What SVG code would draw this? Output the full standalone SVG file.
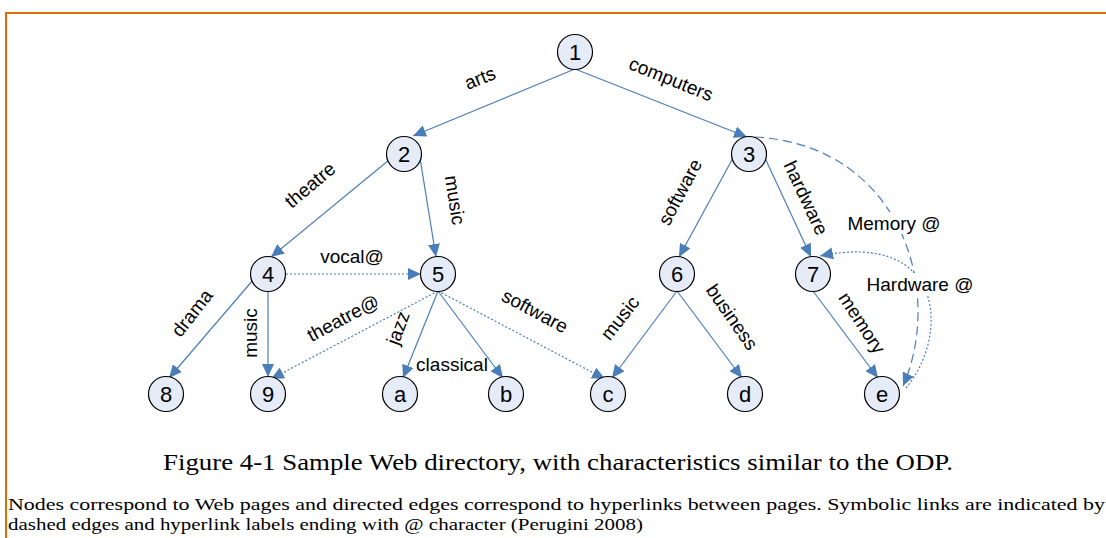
<svg xmlns="http://www.w3.org/2000/svg" width="1106" height="538" viewBox="0 0 1106 538">
<style>
.node circle{fill:#e6ecf7;stroke:#000;stroke-width:1.2}
.node text{font-family:"Liberation Sans",Arial,sans-serif;font-size:22px;text-anchor:middle;dominant-baseline:central;fill:#000}
.e{stroke:#4a7ebb;stroke-width:1.2;fill:none}
.dot{stroke-dasharray:2,2}
.dash{stroke-dasharray:9,5}
.lbl{font-family:"Liberation Sans",Arial,sans-serif;font-size:19px;text-anchor:middle;dominant-baseline:central;fill:#000}
.cap{font-family:"Liberation Serif","Times New Roman",serif;fill:#000}
</style>
<defs>
<marker id="ah" markerUnits="userSpaceOnUse" markerWidth="14" markerHeight="12" refX="13" refY="6" orient="auto">
<path d="M0,0 L13,6 L0,12 z" fill="#4a7ebb"/>
</marker>
</defs>
<rect width="1106" height="538" fill="#fff"/>
<path d="M6,538 V13 H1106" fill="none" stroke="#e36c0a" stroke-width="2"/>
<g id="edges">
<path class="e" d="M575,69 L413,136" marker-end="url(#ah)"/>
<path class="e" d="M575,69 L747,137" marker-end="url(#ah)"/>
<path class="e" d="M389,160 L271,257" marker-end="url(#ah)"/>
<path class="e" d="M420,158 L436,257" marker-end="url(#ah)"/>
<path class="e" d="M733,158 L679,257" marker-end="url(#ah)"/>
<path class="e" d="M765,158 L811,257" marker-end="url(#ah)"/>
<path class="e" d="M253,280 L169,378" marker-end="url(#ah)"/>
<path class="e" d="M268,291 L268,377" marker-end="url(#ah)"/>
<path class="e dot" d="M286,274 L421,274" marker-end="url(#ah)"/>
<path class="e dot" d="M438,291 L271,379" marker-end="url(#ah)"/>
<path class="e" d="M438,291 L403,378" marker-end="url(#ah)"/>
<path class="e" d="M438,291 L503,378" marker-end="url(#ah)"/>
<path class="e dot" d="M438,291 L605,379" marker-end="url(#ah)"/>
<path class="e" d="M677,291 L612,378" marker-end="url(#ah)"/>
<path class="e" d="M677,291 L742,378" marker-end="url(#ah)"/>
<path class="e" d="M813,291 L878,378" marker-end="url(#ah)"/>
<path class="e dash" d="M755,137 C900,145 945,290 903,386" marker-end="url(#ah)"/>
<path class="e dot" d="M906,388 C950,335 945,230 820,256" marker-end="url(#ah)"/>
</g>
<g id="labels">
<rect x="846" y="212" width="96" height="22" fill="#fff"/>
<rect x="865" y="273" width="110" height="22" fill="#fff"/>
<text class="lbl" transform="translate(480,78) rotate(-22)">arts</text>
<text class="lbl" transform="translate(671,79) rotate(22)">computers</text>
<text class="lbl" transform="translate(310,185) rotate(-40)">theatre</text>
<text class="lbl" transform="translate(455,200) rotate(81)">music</text>
<text class="lbl" transform="translate(680,192) rotate(-62)">software</text>
<text class="lbl" transform="translate(806,198) rotate(65)">hardware</text>
<text class="lbl" x="352" y="256">vocal@</text>
<text class="lbl" transform="translate(192,313) rotate(-52)">drama</text>
<text class="lbl" transform="translate(250,333) rotate(-90)">music</text>
<text class="lbl" transform="translate(343,318) rotate(-28)">theatre@</text>
<text class="lbl" transform="translate(398,328) rotate(-70)">jazz</text>
<text class="lbl" x="452" y="364">classical</text>
<text class="lbl" transform="translate(535,311) rotate(28)">software</text>
<text class="lbl" transform="translate(620,318) rotate(-52)">music</text>
<text class="lbl" transform="translate(732,317) rotate(55)">business</text>
<text class="lbl" x="894" y="223">Memory @</text>
<text class="lbl" x="920" y="284">Hardware @</text>
<text class="lbl" transform="translate(862,323) rotate(57)">memory</text>
</g>
<g id="n1" class="node"><circle cx="575" cy="52" r="17.5"/><text x="575" y="52">1</text></g>
<g id="n2" class="node"><circle cx="404" cy="154" r="17.5"/><text x="404" y="154">2</text></g>
<g id="n3" class="node"><circle cx="749" cy="154" r="17.5"/><text x="749" y="154">3</text></g>
<g id="n4" class="node"><circle cx="268" cy="274" r="17.5"/><text x="268" y="274">4</text></g>
<g id="n5" class="node"><circle cx="438" cy="274" r="17.5"/><text x="438" y="274">5</text></g>
<g id="n6" class="node"><circle cx="677" cy="274" r="17.5"/><text x="677" y="274">6</text></g>
<g id="n7" class="node"><circle cx="813" cy="274" r="17.5"/><text x="813" y="274">7</text></g>
<g id="n8" class="node"><circle cx="166" cy="394" r="17.5"/><text x="166" y="394">8</text></g>
<g id="n9" class="node"><circle cx="268" cy="394" r="17.5"/><text x="268" y="394">9</text></g>
<g id="na" class="node"><circle cx="400" cy="394" r="17.5"/><text x="400" y="394">a</text></g>
<g id="nb" class="node"><circle cx="506" cy="394" r="17.5"/><text x="506" y="394">b</text></g>
<g id="nc" class="node"><circle cx="608" cy="394" r="17.5"/><text x="608" y="394">c</text></g>
<g id="nd" class="node"><circle cx="745" cy="394" r="17.5"/><text x="745" y="394">d</text></g>
<g id="ne" class="node"><circle cx="882" cy="394" r="17.5"/><text x="882" y="394">e</text></g>
<text class="cap" x="163" y="470" font-size="23" textLength="790" lengthAdjust="spacingAndGlyphs">Figure 4-1 Sample Web directory, with characteristics similar to the ODP.</text>
<text class="cap" x="8" y="510" font-size="17" textLength="1097" lengthAdjust="spacingAndGlyphs">Nodes correspond to Web pages and directed edges correspond to hyperlinks between pages. Symbolic links are indicated by</text>
<text class="cap" x="8" y="530" font-size="17" textLength="635" lengthAdjust="spacingAndGlyphs">dashed edges and hyperlink labels ending with @ character (Perugini 2008)</text>
</svg>
